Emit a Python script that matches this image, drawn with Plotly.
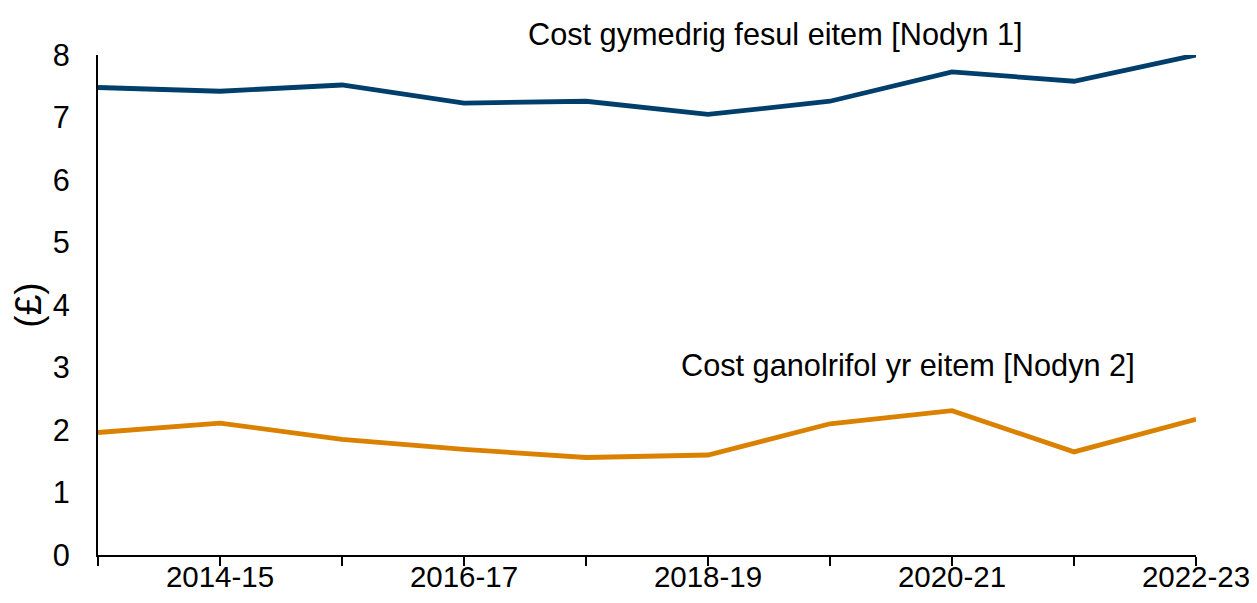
import plotly.graph_objects as go

# financial years on the x axis
years = ["2013-14", "2014-15", "2015-16", "2016-17", "2017-18",
         "2018-19", "2019-20", "2020-21", "2021-22", "2022-23"]
# only every other year gets a label
year_labels = ["", "2014-15", "", "2016-17", "", "2018-19", "", "2020-21", "", "2022-23"]

# mean cost per item [Note 1]
mean_cost = [7.48, 7.42, 7.52, 7.23, 7.26, 7.05, 7.26, 7.73, 7.58, 8.00]
# median cost per item [Note 2]
median_cost = [1.96, 2.11, 1.85, 1.69, 1.56, 1.60, 2.10, 2.31, 1.65, 2.17]

blue = "#003F6B"
orange = "#DA8100"
font = "Liberation Sans, Arial, sans-serif"
fsize = 30.7

fig = go.Figure()
fig.add_trace(go.Scatter(x=years, y=mean_cost, mode="lines",
                         line=dict(color=blue, width=4.8), showlegend=False))
fig.add_trace(go.Scatter(x=years, y=median_cost, mode="lines",
                         line=dict(color=orange, width=4.8), showlegend=False))

# labels sit next to the lines, not in a legend
fig.add_annotation(x=5.55, xref="x", y=1.04, yref="paper", yanchor="middle",
                   text="Cost gymedrig fesul eitem [Nodyn 1]",
                   showarrow=False, font=dict(size=fsize, color="black"))
fig.add_annotation(x=6.64, y=3.03, text="Cost ganolrifol yr eitem [Nodyn 2]",
                   showarrow=False, font=dict(size=fsize, color="black"))

# page body has an 8px margin, so keep the figure inside the window (no scrollbars)
fig.update_layout(
    width=1249, height=587,
    margin=dict(l=90, r=61, t=47, b=40),
    plot_bgcolor="white", paper_bgcolor="white",
    font=dict(family=font, size=fsize, color="black"),
)
fig.update_xaxes(type="category", range=[0, 9], tickmode="array",
                 tickvals=years, ticktext=year_labels, automargin=False,
                 tickfont=dict(size=29.5),
                 showline=True, linecolor="black", linewidth=2,
                 ticks="outside", ticklen=9, tickwidth=2, tickcolor="black",
                 ticklabelstandoff=-14,
                 showgrid=False, zeroline=False)
fig.update_yaxes(range=[0, 8], dtick=1, automargin=False,
                 showline=True, linecolor="black", linewidth=2,
                 showgrid=False, zeroline=False, ticks="", ticklabelstandoff=20,
                 title=dict(text="(£)", standoff=3))

fig.write_html("out.html")
